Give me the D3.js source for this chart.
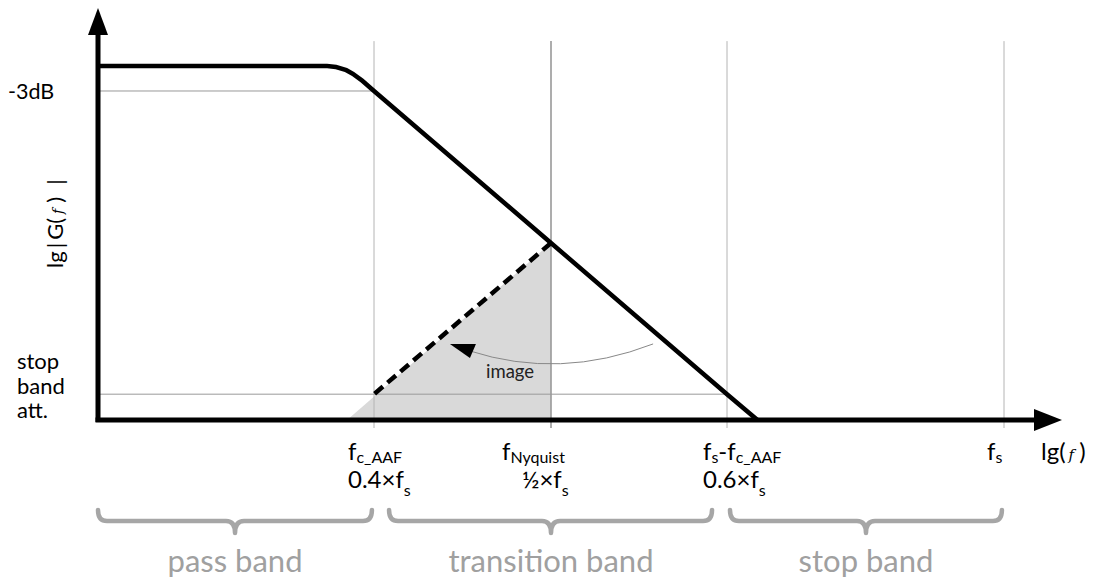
<!DOCTYPE html>
<html><head><meta charset="utf-8">
<script src="https://cdn.jsdelivr.net/npm/d3@7"></script>
<style>
html,body{margin:0;padding:0;background:#fff;}
text{font-family:Lato,"Open Sans",sans-serif;}
</style></head>
<body><svg id="c" width="1095" height="580"></svg>
<script>
// ---- data (schematic: frequency as fraction of fs, gain in dB) ----
const gridFreqs   = [0.4, 0.5, 0.6, 1.0];          // fc_AAF, fNyquist, fs-fc_AAF, fs
const respFreq    = [0, 0.332, 0.358, 0.3826, 0.4, 0.5, 0.6, 0.644];
const respDb      = [0, 0, 0, -1.75, -3, -21.25, -39.4, -42.5];
const minus3Db    = -3;
const stopAttDb   = -39.4;
const imageFreq   = [0.361, 0.5, 0.5];             // grey image triangle
const imageDb     = [-42.5, -21.25, -42.5];
const arcFreq     = [0.558, 0.505, 0.454];
const arcDb       = [-33.37, -37.7, -34.2];
const headFreq    = [0.4429, 0.4576, 0.4542];
const headDb      = [-33.37, -33.37, -35.06];
const bandLabels  = ["pass band", "transition band", "stop band"];
const bandFrom    = [0, 0.4085, 0.6043];
const bandTo      = [0.397, 0.5915, 0.997];
const bandMid     = [0.1986, 0.5, 0.8007];

// ---- scales ----
const x = d3.scaleLinear().domain([0, 0.4, 0.5, 0.6, 1.0, 1.07]).range([98, 374, 551, 727, 1004, 1062]);
const y = d3.scaleLinear().domain([-42.5, 0]).range([420, 66]);
const yTop = 6.95;

const svg = d3.select("#c");

// grey image fill
svg.append("path")
  .attr("d", d3.line()(imageFreq.map((f,i)=>[x(f), y(imageDb[i])])) + "Z")
  .attr("fill", "#d9d9d9");

// vertical grid lines
svg.selectAll("line.grid").data(gridFreqs).join("line")
  .attr("class","grid")
  .attr("x1", d=>x(d)).attr("x2", d=>x(d))
  .attr("y1", y(yTop) + 33).attr("y2", y(-42.5) + 8)
  .attr("stroke", (d,i)=> i===1 ? "#999" : "#b4b4b4").attr("stroke-width", (d,i)=> i===1 ? 1.6 : 1);

// horizontal reference lines
svg.append("line").attr("x1", x(0)).attr("x2", x(0.4)).attr("y1", y(minus3Db)).attr("y2", y(minus3Db))
  .attr("stroke", "#999").attr("stroke-width", 1);
svg.append("line").attr("x1", x(0)).attr("x2", x(0.6)).attr("y1", y(stopAttDb)).attr("y2", y(stopAttDb))
  .attr("stroke", "#999").attr("stroke-width", 1);

// filter response
const p = d3.path();
p.moveTo(x(respFreq[0]), y(respDb[0]));
p.lineTo(x(respFreq[1]), y(respDb[1]));
p.quadraticCurveTo(x(respFreq[2]), y(respDb[2]), x(respFreq[3]), y(respDb[3]));
for (let i = 4; i < respFreq.length; i++) p.lineTo(x(respFreq[i]), y(respDb[i]));
svg.append("path").attr("d", p.toString()).attr("fill","none")
  .attr("stroke","#000").attr("stroke-width",4.5).attr("stroke-linejoin","round");

// mirrored image (dashed)
svg.append("line")
  .attr("x1", x(0.5)).attr("y1", y(-21.25))
  .attr("x2", x(0.4)).attr("y2", y(stopAttDb))
  .attr("stroke","#000").attr("stroke-width",4.5).attr("stroke-dasharray","11,6");

// image arc arrow
const arc = d3.path();
arc.moveTo(x(arcFreq[0]), y(arcDb[0]));
arc.quadraticCurveTo(x(arcFreq[1]), y(arcDb[1]), x(arcFreq[2]), y(arcDb[2]));
svg.append("path").attr("d", arc.toString()).attr("fill","none").attr("stroke","#888").attr("stroke-width",1);
svg.append("path")
  .attr("d", d3.line()(headFreq.map((f,i)=>[x(f), y(headDb[i])])) + "Z")
  .attr("fill","#000");
svg.append("text").attr("x", x(0.5)-65).attr("y", y(-42.5)-42).attr("font-size", 18.5).attr("fill","#222").text("image");

// axes
svg.append("line").attr("x1", x(0)).attr("x2", x(0)).attr("y1", y(-42.5)+2).attr("y2", y(yTop)+24)
  .attr("stroke","#000").attr("stroke-width",5);
svg.append("path").attr("d", d3.line()([[x(0)-10, y(yTop)+27],[x(0)+10, y(yTop)+27],[x(0), y(yTop)]])+"Z").attr("fill","#000");
svg.append("line").attr("x1", x(0)-2.5).attr("x2", x(1.07)-24).attr("y1", y(-42.5)).attr("y2", y(-42.5))
  .attr("stroke","#000").attr("stroke-width",5);
svg.append("path").attr("d", d3.line()([[x(1.07)-28, y(-42.5)-11],[x(1.07)-28, y(-42.5)+11],[x(1.07), y(-42.5)]])+"Z").attr("fill","#000");

// y labels
svg.append("text").attr("x", 8).attr("y", y(minus3Db)+8).attr("font-size", 21.5).text("-3dB");
["stop","band","att."].forEach((t,i)=>
  svg.append("text").attr("x", 17).attr("y", 369 + i*24.5).attr("font-size", 22).text(t));
const yl = svg.append("text").attr("transform", `translate(63,268) rotate(-90)`)
  .attr("font-size", 22);
yl.append("tspan").text("lg");
yl.append("tspan").attr("dx", 3).text("|");
yl.append("tspan").attr("dx", 3).text("G(");
yl.append("tspan").attr("dx", 4).attr("font-style","italic").attr("font-family","'DejaVu Serif',serif").attr("font-size",14).text("f");
yl.append("tspan").attr("dx", 6).text(")");
yl.append("tspan").attr("dx", 12).text("|");

// x labels
function fLabel(xp, yp, parts, drop) {
  const t = svg.append("text").attr("x", xp).attr("y", yp).attr("font-size", 24);
  let down = false;
  parts.forEach(([s, sub]) => {
    const ts = t.append("tspan").text(s);
    if (sub) { ts.attr("font-size", 16); if (!down) { ts.attr("dy", drop); down = true; } }
    else if (down) { ts.attr("dy", -drop); down = false; }
  });
}
const row1 = y(-42.5) + 40, row2 = y(-42.5) + 68;
fLabel(x(gridFreqs[0]) - 26, row1, [["f"],["c_AAF",1]], 3);
fLabel(x(gridFreqs[0]) - 26, row2, [["0.4×f"],["s",1]], 8);
fLabel(x(gridFreqs[1]) - 49, row1, [["f"],["Nyquist",1]], 3);
fLabel(x(gridFreqs[1]) - 29, row2, [["½×f"],["s",1]], 8);
fLabel(x(gridFreqs[2]) - 24, row1, [["f"],["s",1],["-f"],["c_AAF",1]], 3);
fLabel(x(gridFreqs[2]) - 24, row2, [["0.6×f"],["s",1]], 8);
fLabel(x(gridFreqs[3]) - 17, row1, [["f"],["s",1]], 3);
const lgf = svg.append("text").attr("x", x(1.07) - 21).attr("y", row1).attr("font-size", 24);
lgf.append("tspan").text("lg(");
lgf.append("tspan").attr("dx", 3).attr("font-style","italic").attr("font-family","'DejaVu Serif',serif").attr("font-size",15).text("f");
lgf.append("tspan").attr("dx", 5).text(")");

// braces
const by0 = 510, by1 = 521, by2 = 533, r = 9;
bandLabels.forEach((lab, i) => {
  const a = x(bandFrom[i]), b = x(bandTo[i]), m = x(bandMid[i]);
  const bp = d3.path();
  bp.moveTo(a, by0);
  bp.quadraticCurveTo(a, by1, a + r, by1);
  bp.lineTo(m - r, by1);
  bp.quadraticCurveTo(m, by1, m, by2);
  bp.quadraticCurveTo(m, by1, m + r, by1);
  bp.lineTo(b - r, by1);
  bp.quadraticCurveTo(b, by1, b, by0);
  svg.append("path").attr("d", bp.toString()).attr("fill","none")
    .attr("stroke","#a6a6a6").attr("stroke-width",4.5).attr("stroke-linecap","round").attr("stroke-linejoin","round");
  svg.append("text").attr("x", m).attr("y", 572).attr("text-anchor","middle")
    .attr("font-size", 31).attr("fill","#a0a0a0").text(lab);
});
</script></body></html>
